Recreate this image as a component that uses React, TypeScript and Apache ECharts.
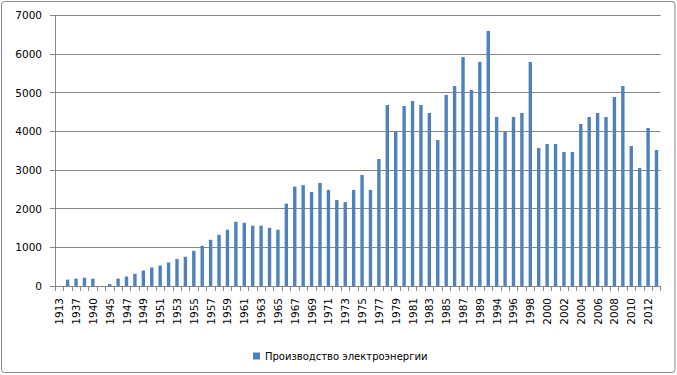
import React, { useEffect, useRef } from "react";
import * as echarts from "echarts";

const years: string[] = [
  "1913", "1928", "1937", "1938", "1940", "1944", "1945", "1946", "1947", "1948",
  "1949", "1950", "1951", "1952", "1953", "1954", "1955", "1956", "1957", "1958",
  "1959", "1960", "1961", "1962", "1963", "1964", "1965", "1966", "1967", "1968",
  "1969", "1970", "1971", "1972", "1973", "1974", "1975", "1976", "1977", "1978",
  "1979", "1980", "1981", "1982", "1983", "1984", "1985", "1986", "1987", "1988",
  "1989", "1990", "1994", "1995", "1996", "1997", "1998", "1999", "2000", "2001",
  "2002", "2003", "2004", "2005", "2006", "2007", "2008", "2009", "2010", "2011",
  "2012", "2013",
];

const production: number[] = [
  0, 165, 190, 215, 190, 0, 50, 190, 245, 315,
  400, 480, 530, 610, 700, 755, 910, 1040, 1195, 1325,
  1455, 1660, 1635, 1560, 1560, 1505, 1455, 2130, 2570, 2610,
  2430, 2665, 2485, 2225, 2170, 2485, 2870, 2485, 3285, 4680,
  3985, 4655, 4785, 4680, 4475, 3775, 4940, 5170, 5920, 5070,
  5795, 6595, 4370, 3985, 4370, 4475, 5795, 3570, 3670, 3670,
  3465, 3465, 4190, 4370, 4475, 4370, 4890, 5170, 3620, 3050,
  4085, 3515,
];

const seriesName = "Производство электроэнергии";
const yMin = 0;
const yMax = 7000;
const yStep = 1000;

const FONT = "DejaVu Sans";
const GRAY = "#868686";

export default function App() {
  const ref = useRef<HTMLDivElement>(null);

  useEffect(() => {
    if (!ref.current) return;
    const chart = echarts.init(ref.current, undefined, { renderer: "svg" });
    chart.setOption({
      animation: false,
      backgroundColor: "#ffffff",
      graphic: [
        {
          type: "rect",
          shape: { x: 1.5, y: 1.5, width: 673.5, height: 371, r: 3 },
          style: { fill: "none", stroke: GRAY, lineWidth: 1 },
          silent: true,
        },
      ],
      grid: { left: 55, right: 16.3, top: 15.3, bottom: 89, containLabel: false },
      legend: {
        data: [seriesName],
        left: 248,
        top: 346,
        icon: "rect",
        itemWidth: 7,
        itemHeight: 7,
        itemGap: 5,
        textStyle: { fontFamily: FONT, fontSize: 10, color: "#000" },
      },
      xAxis: {
        type: "category",
        data: years,
        boundaryGap: true,
        axisLine: { show: true, lineStyle: { color: GRAY, width: 1 } },
        axisTick: { show: true, interval: 0, length: 5, lineStyle: { color: GRAY } },
        axisLabel: {
          interval: 1,
          rotate: 90,
          margin: 12,
          fontFamily: FONT,
          fontSize: 10.5,
          color: "#000",
        },
        splitLine: { show: false },
      },
      yAxis: {
        type: "value",
        min: yMin,
        max: yMax,
        interval: yStep,
        axisLine: { show: true, lineStyle: { color: GRAY, width: 1 } },
        axisTick: { show: true, length: 5, lineStyle: { color: GRAY } },
        axisLabel: {
          margin: 13,
          fontFamily: FONT,
          fontSize: 10.5,
          color: "#000",
          formatter: (v: number) => String(v),
        },
        splitLine: { show: true, lineStyle: { color: GRAY, width: 1 } },
      },
      series: [
        {
          name: seriesName,
          type: "bar",
          data: production,
          barWidth: 3.4,
          itemStyle: { color: "#4F81BD" },
        },
      ],
    });
    return () => chart.dispose();
  }, []);

  return (
    <div
      ref={ref}
      style={{ position: "fixed", left: 0, top: 0, width: 677, height: 375 }}
    />
  );
}
